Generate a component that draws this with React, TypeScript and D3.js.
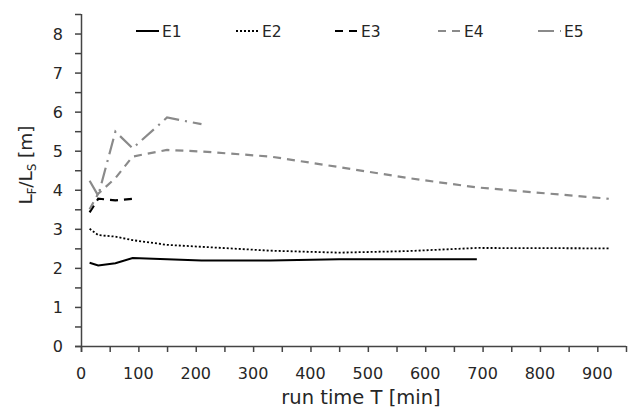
import React, { useEffect, useRef } from 'react';
import * as d3 from 'd3';

const seriesNames = ['E1', 'E2', 'E3', 'E4', 'E5'];

const e1T = [15, 30, 60, 90, 150, 210, 330, 450, 570, 690];
const e1V = [2.13, 2.06, 2.12, 2.25, 2.22, 2.19, 2.19, 2.22, 2.22, 2.22];

const e2T = [15, 30, 60, 90, 150, 210, 330, 450, 570, 690, 920];
const e2V = [3.0, 2.84, 2.8, 2.71, 2.59, 2.54, 2.44, 2.39, 2.43, 2.51, 2.5];

const e3T = [15, 30, 60, 90];
const e3V = [3.42, 3.77, 3.73, 3.77];

const e4T = [15, 30, 60, 90, 150, 210, 330, 450, 570, 690, 920];
const e4V = [3.5, 3.9, 4.3, 4.85, 5.02, 4.98, 4.85, 4.58, 4.3, 4.06, 3.77];

const e5T = [15, 30, 60, 90, 150, 210];
const e5V = [4.23, 3.85, 5.49, 5.06, 5.85, 5.68];

const xTicks = [0, 100, 200, 300, 400, 500, 600, 700, 800, 900];
const yTicks = [0, 1, 2, 3, 4, 5, 6, 7, 8];

const styles = [
  { color: '#000', dash: '', width: 2 },
  { color: '#000', dash: '2,2', width: 1.8 },
  { color: '#000', dash: '8,6', width: 2.2 },
  { color: '#8a8a8a', dash: '8,6', width: 2.2 },
  { color: '#8a8a8a', dash: '16,6,2,6', width: 2.2 },
];

const App = () => {
  const ref = useRef<SVGSVGElement>(null);

  useEffect(() => {
    const svg = d3.select(ref.current);
    svg.selectAll('*').remove();

    const font = '"DejaVu Sans", sans-serif';
    const txt = '#262626';
    const x = d3.scaleLinear().domain([0, 950]).range([81, 626]);
    const y = d3.scaleLinear().domain([0, 8.5]).range([346, 14]);

    const series = [
      e1T.map((t, i) => [t, e1V[i]]),
      e2T.map((t, i) => [t, e2V[i]]),
      e3T.map((t, i) => [t, e3V[i]]),
      e4T.map((t, i) => [t, e4V[i]]),
      e5T.map((t, i) => [t, e5V[i]]),
    ];

    // x axis
    const xg = svg.append('g').attr('transform', `translate(0,${y(0)})`);
    xg.call(d3.axisBottom(x).tickValues(d3.range(0, 951, 50)).tickSize(6).tickFormat(() => ''));
    xg.select('.domain').attr('stroke', '#444').attr('stroke-width', 1.5).attr('d', `M${x(0) - 6},0.5H${x(950)}`);
    xg.selectAll('line').attr('stroke', '#444').attr('stroke-width', 1.5);
    xg.selectAll('text').remove();
    svg.append('g')
      .selectAll('text')
      .data(xTicks)
      .enter()
      .append('text')
      .attr('x', d => x(d))
      .attr('y', 379)
      .attr('text-anchor', 'middle')
      .attr('font-family', font)
      .attr('font-size', 16)
      .attr('fill', txt)
      .text(d => d);

    // y axis
    const yg = svg.append('g').attr('transform', `translate(${x(0)},0)`);
    yg.call(d3.axisLeft(y).tickValues(d3.range(0, 8.51, 0.5)).tickSize(6).tickFormat(() => ''));
    yg.select('.domain').attr('stroke', '#444').attr('stroke-width', 1.5).attr('d', `M0.5,${y(0) + 6}V${y(8.5)}`);
    yg.selectAll('line').attr('stroke', '#444').attr('stroke-width', 1.5);
    svg.append('g')
      .selectAll('text')
      .data(yTicks)
      .enter()
      .append('text')
      .attr('x', 63)
      .attr('y', d => y(d) + 6)
      .attr('text-anchor', 'end')
      .attr('font-family', font)
      .attr('font-size', 16)
      .attr('fill', txt)
      .text(d => d);

    // lines
    const line = d3.line<number[]>()
      .x(d => x(d[0]))
      .y(d => y(d[1]));

    series.forEach((s, i) => {
      svg.append('path')
        .datum(s)
        .attr('d', line)
        .attr('fill', 'none')
        .attr('stroke', styles[i].color)
        .attr('stroke-width', styles[i].width)
        .attr('stroke-dasharray', styles[i].dash);
    });

    // legend
    const legendX = [136, 236, 335, 438, 538];
    seriesNames.forEach((name, i) => {
      const g = svg.append('g').attr('transform', `translate(${legendX[i]},31)`);
      g.append('line')
        .attr('x1', 0).attr('x2', 23)
        .attr('stroke', styles[i].color)
        .attr('stroke-width', styles[i].width)
        .attr('stroke-dasharray', styles[i].dash);
      g.append('text')
        .attr('x', 26)
        .attr('y', 6)
        .attr('font-family', font)
        .attr('font-size', 15.5)
        .attr('fill', txt)
        .text(name);
    });

    // axis titles
    svg.append('text')
      .attr('x', 361)
      .attr('y', 404)
      .attr('text-anchor', 'middle')
      .attr('font-family', font)
      .attr('font-size', 19.5)
      .attr('fill', txt)
      .text('run time T [min]');

    const yl = svg.append('text')
      .attr('transform', `translate(32,165) rotate(-90)`)
      .attr('text-anchor', 'middle')
      .attr('font-family', font)
      .attr('font-size', 18.5)
      .attr('fill', txt);
    yl.append('tspan').text('L');
    yl.append('tspan').attr('font-size', 11.5).attr('dy', 4).text('F');
    yl.append('tspan').attr('dy', -4).text('/L');
    yl.append('tspan').attr('font-size', 11.5).attr('dy', 4).text('S');
    yl.append('tspan').attr('dy', -4).text(' [m]');
  }, []);

  return (
    <svg ref={ref} width={631} height={412} style={{ position: 'absolute', left: 0, top: 0, background: '#fff' }} />
  );
};

export default App;
